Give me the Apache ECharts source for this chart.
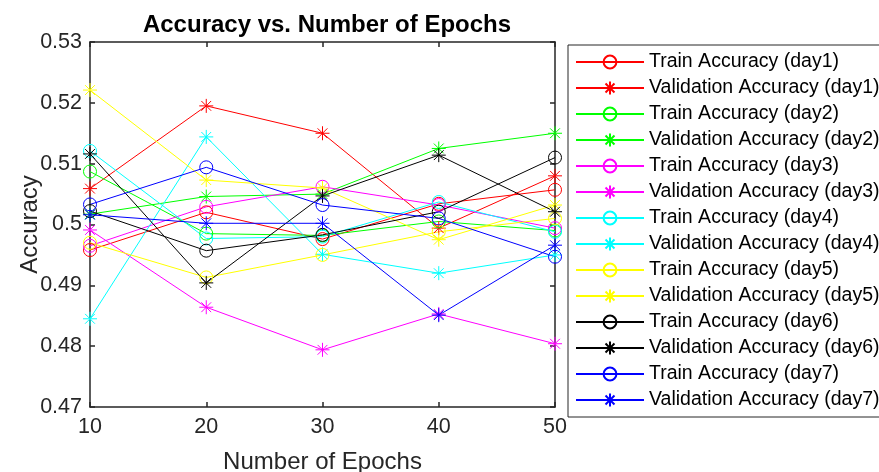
<!DOCTYPE html>
<html>
<head>
<meta charset="utf-8">
<script src="https://cdn.jsdelivr.net/npm/echarts@6/dist/echarts.min.js"></script>
<style>
  html, body { margin: 0; padding: 0; background: #fff; }
  #chart { width: 879px; height: 472px; }
</style>
</head>
<body>
<div id="chart"></div>
<script>
// Epoch counts on the x axis
var epochs = [10, 20, 30, 40, 50];

// Accuracy per day, train and validation
var trainDay1 = [0.4958, 0.5020, 0.4976, 0.5034, 0.5057];
var valDay1   = [0.5059, 0.5195, 0.5150, 0.4994, 0.5080];
var trainDay2 = [0.5087, 0.4985, 0.4982, 0.5005, 0.4990];
var valDay2   = [0.5017, 0.5046, 0.5050, 0.5125, 0.5150];
var trainDay3 = [0.4965, 0.5029, 0.5062, 0.5032, 0.4994];
var valDay3   = [0.4991, 0.4864, 0.4794, 0.4853, 0.4804];
var trainDay4 = [0.5121, 0.4977, 0.4980, 0.5037, 0.4988];
var valDay4   = [0.4845, 0.5144, 0.4951, 0.4920, 0.4950];
var trainDay5 = [0.4970, 0.4913, 0.4950, 0.4988, 0.5010];
var valDay5   = [0.5221, 0.5073, 0.5060, 0.4975, 0.5032];
var trainDay6 = [0.5022, 0.4957, 0.4983, 0.5021, 0.5110];
var valDay6   = [0.5116, 0.4904, 0.5047, 0.5114, 0.5021];
var trainDay7 = [0.5033, 0.5094, 0.5032, 0.5010, 0.4947];
var valDay7   = [0.5016, 0.5002, 0.5002, 0.4851, 0.4966];

var dayColors = ['#ff0000', '#00ff00', '#ff00ff', '#00ffff', '#ffff00', '#000000', '#0000ff'];
var trainSets = [trainDay1, trainDay2, trainDay3, trainDay4, trainDay5, trainDay6, trainDay7];
var valSets = [valDay1, valDay2, valDay3, valDay4, valDay5, valDay6, valDay7];

var yTicks = [0.47, 0.48, 0.49, 0.5, 0.51, 0.52, 0.53];

// asterisk marker: vertical, horizontal and two diagonal strokes
var asterisk = 'path://M0,-1L0,1M-1,0L1,0M-0.7,-0.7L0.7,0.7M-0.7,0.7L0.7,-0.7';

var axisColor = '#262626';
var fontFamily = "'Liberation Sans', Arial, sans-serif";

function pairs(vals) {
  return vals.map(function (v, i) { return [epochs[i], v]; });
}

var series = [];
for (var d = 0; d < 7; d++) {
  var c = dayColors[d];
  series.push({
    name: 'Train Accuracy (day' + (d + 1) + ')',
    type: 'line',
    data: pairs(trainSets[d]),
    symbol: 'circle',
    symbolSize: 13,
    showAllSymbol: true,
    lineStyle: { color: c, width: 1 },
    itemStyle: { color: 'rgba(0,0,0,0)', borderColor: c, borderWidth: 1 },
    emphasis: { disabled: true }
  });
  series.push({
    name: 'Validation Accuracy (day' + (d + 1) + ')',
    type: 'line',
    data: pairs(valSets[d]),
    symbol: asterisk,
    symbolSize: 14,
    showAllSymbol: true,
    lineStyle: { color: c, width: 1 },
    itemStyle: { color: c, borderColor: c, borderWidth: 1 },
    emphasis: { disabled: true }
  });
}

var chart = echarts.init(document.getElementById('chart'), null, { renderer: 'canvas' });

var xCommon = {
  type: 'value',
  min: epochs[0],
  max: epochs[epochs.length - 1],
  interval: 10,
  axisLine: { show: true, lineStyle: { color: axisColor, width: 1.5 } },
  axisTick: { show: true, inside: true, length: 5, lineStyle: { color: axisColor, width: 1.5 } },
  splitLine: { show: false }
};
var yCommon = {
  type: 'value',
  min: yTicks[0],
  max: yTicks[yTicks.length - 1],
  interval: 0.01,
  axisLine: { show: true, lineStyle: { color: axisColor, width: 1.5 } },
  axisTick: { show: true, inside: true, length: 5, lineStyle: { color: axisColor, width: 1.5 } },
  splitLine: { show: false }
};

chart.setOption({
  animation: false,
  backgroundColor: '#ffffff',
  textStyle: { fontFamily: fontFamily },
  title: {
    text: 'Accuracy vs. Number of Epochs',
    left: 322,
    textAlign: 'center',
    top: 8,
    textStyle: { fontFamily: fontFamily, fontSize: 24, fontWeight: 'bold', color: '#000' }
  },
  grid: { left: 90, top: 42, right: 324, bottom: 65, outerBoundsMode: 'none' },
  legend: {
    orient: 'vertical',
    left: 568,
    top: 45,
    padding: [7, 20, 7, 7],
    itemWidth: 68,
    itemHeight: 16,
    itemGap: 6,
    backgroundColor: '#ffffff',
    borderColor: axisColor,
    borderWidth: 1,
    textStyle: { fontFamily: fontFamily, fontSize: 19.5, color: '#000' },
    data: series.map(function (s) { return s.name; })
  },
  xAxis: [
    Object.assign({}, xCommon, {
      position: 'bottom',
      name: 'Number of Epochs',
      nameLocation: 'middle',
      nameGap: 43,
      nameMoveOverlap: false,
      nameTextStyle: { fontFamily: fontFamily, fontSize: 24, color: axisColor },
      axisLabel: { show: true, fontSize: 21.5, color: axisColor, margin: 9, fontFamily: fontFamily }
    }),
    Object.assign({}, xCommon, { position: 'top', axisLabel: { show: false } })
  ],
  yAxis: [
    Object.assign({}, yCommon, {
      position: 'left',
      name: 'Accuracy',
      nameLocation: 'middle',
      nameGap: 48,
      nameMoveOverlap: false,
      nameTextStyle: { fontFamily: fontFamily, fontSize: 24, color: axisColor },
      axisLabel: {
        show: true, fontSize: 21.5, color: axisColor, margin: 8, fontFamily: fontFamily,
        formatter: function (v) { return String(+v.toFixed(2)); }
      }
    }),
    Object.assign({}, yCommon, { position: 'right', axisLabel: { show: false } })
  ],
  series: series
});
</script>
</body>
</html>
